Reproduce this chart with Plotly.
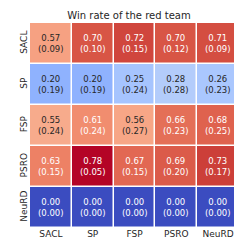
import plotly.graph_objects as go

teams = ["SACL", "SP", "FSP", "PSRO", "NeuRD"]
mean_sacl = [0.57, 0.70, 0.72, 0.70, 0.71]
mean_sp = [0.20, 0.20, 0.25, 0.28, 0.26]
mean_fsp = [0.55, 0.61, 0.56, 0.66, 0.68]
mean_psro = [0.63, 0.78, 0.67, 0.69, 0.73]
mean_neurd = [0.00, 0.00, 0.00, 0.00, 0.00]
std_sacl = [0.09, 0.10, 0.15, 0.12, 0.09]
std_sp = [0.19, 0.19, 0.24, 0.28, 0.23]
std_fsp = [0.24, 0.24, 0.27, 0.23, 0.25]
std_psro = [0.15, 0.05, 0.15, 0.20, 0.17]
std_neurd = [0.00, 0.00, 0.00, 0.00, 0.00]

means = [mean_sacl, mean_sp, mean_fsp, mean_psro, mean_neurd]
stds = [std_sacl, std_sp, std_fsp, std_psro, std_neurd]

cw = [(59,76,192),(68,90,204),(77,104,215),(87,117,225),(98,130,234),(108,142,241),
      (119,154,247),(130,165,251),(141,176,254),(152,185,255),(163,194,255),(174,201,253),
      (184,208,249),(194,213,244),(204,217,238),(213,219,230),(221,221,221),(229,216,209),
      (236,211,197),(241,204,184),(245,196,172),(247,187,159),(247,177,147),(247,166,134),
      (244,154,123),(241,141,111),(236,127,99),(229,112,88),(222,96,77),(213,80,66),
      (203,62,56),(192,40,47),(180,4,38)]
n = len(cw) - 1
colorscale = [[i / n, "rgb(%d,%d,%d)" % c] for i, c in enumerate(cw)]

vmin, vmax = 0.0, max(max(r) for r in means)

def color_at(v):
    t = (v - vmin) / (vmax - vmin)
    t = min(max(t, 0), 1) * n
    i = min(int(t), n - 1)
    f = t - i
    return tuple(cw[i][k] + (cw[i + 1][k] - cw[i][k]) * f for k in range(3))

def lum(c):
    def ch(x):
        x = x / 255
        return x / 12.92 if x <= 0.03928 else ((x + 0.055) / 1.055) ** 2.4
    r, g, b = (ch(x) for x in c)
    return 0.2126 * r + 0.7152 * g + 0.0722 * b

fig = go.Figure(go.Heatmap(
    z=means, x=teams, y=teams, colorscale=colorscale, zmin=vmin, zmax=vmax,
    showscale=False, xgap=1.5, ygap=1.5, hoverinfo="skip"))

for i, row in enumerate(teams):
    for j, col in enumerate(teams):
        v = means[i][j]
        txtc = "#262626" if lum(color_at(v)) > 0.408 else "white"
        fig.add_annotation(x=col, y=row, text="%.2f<br>(%.2f)" % (v, stds[i][j]),
                           showarrow=False, font=dict(size=8.5, color=txtc,
                           family="DejaVu Sans"))

fig.update_layout(
    width=242, height=242,
    margin=dict(l=22, r=11, t=15, b=19),
    plot_bgcolor="white", paper_bgcolor="white",
    title=dict(text="Win rate of the red team", x=0.5, xanchor="center",
               y=0.985, yanchor="top",
               font=dict(size=10, color="#262626", family="DejaVu Sans")),
    font=dict(family="DejaVu Sans", color="#262626"),
)
fig.update_xaxes(showgrid=False, zeroline=False, tickfont=dict(size=9), ticks="",
                 ticklabelstandoff=-1)
fig.update_yaxes(showgrid=False, zeroline=False, autorange="reversed",
                 tickangle=-90, tickfont=dict(size=9), ticks="")

fig.write_html("out.html")
